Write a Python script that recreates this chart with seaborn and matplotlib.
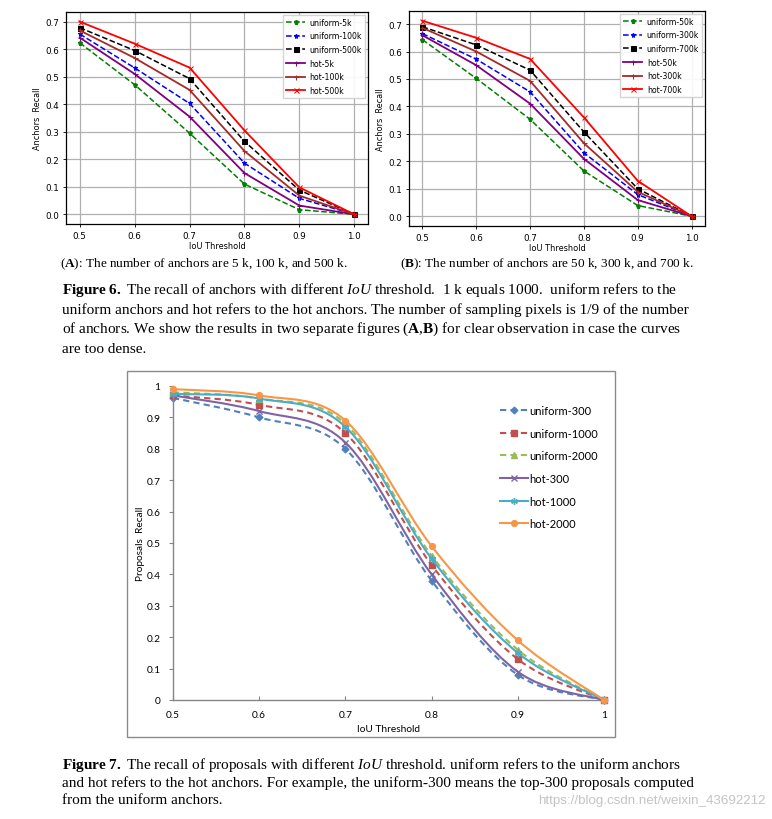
import numpy as np
import pandas as pd
import matplotlib
matplotlib.use("Agg")
import matplotlib.pyplot as plt
import seaborn as sns
from matplotlib.path import Path
from matplotlib.patches import PathPatch, Rectangle
from matplotlib.lines import Line2D

# ---------------------------------------------------------------------------
# data
# ---------------------------------------------------------------------------
iou = [0.5, 0.6, 0.7, 0.8, 0.9, 1.0]

# Figure 6 (A)
labels_a = ["uniform-5k", "uniform-100k", "uniform-500k", "hot-5k", "hot-100k", "hot-500k"]
uniform_5k = [0.623, 0.471, 0.295, 0.110, 0.017, 0.0]
uniform_100k = [0.655, 0.532, 0.403, 0.186, 0.058, 0.0]
uniform_500k = [0.678, 0.595, 0.493, 0.265, 0.088, 0.0]
hot_5k = [0.642, 0.510, 0.355, 0.150, 0.032, 0.0]
hot_100k = [0.668, 0.568, 0.452, 0.230, 0.068, 0.0]
hot_500k = [0.700, 0.620, 0.533, 0.305, 0.098, 0.0]

# Figure 6 (B)
labels_b = ["uniform-50k", "uniform-300k", "uniform-700k", "hot-50k", "hot-300k", "hot-700k"]
uniform_50k = [0.643, 0.502, 0.353, 0.165, 0.039, 0.0]
uniform_300k = [0.665, 0.572, 0.453, 0.231, 0.079, 0.0]
uniform_700k = [0.690, 0.624, 0.532, 0.307, 0.100, 0.0]
hot_50k = [0.659, 0.550, 0.410, 0.209, 0.059, 0.0]
hot_300k = [0.686, 0.600, 0.493, 0.266, 0.089, 0.0]
hot_700k = [0.712, 0.650, 0.573, 0.360, 0.129, 0.0]

# Figure 7
labels_c = ["uniform-300", "uniform-1000", "uniform-2000", "hot-300", "hot-1000", "hot-2000"]
uniform_300 = [0.962, 0.900, 0.800, 0.380, 0.080, 0.0]
uniform_1000 = [0.970, 0.940, 0.850, 0.430, 0.130, 0.0]
uniform_2000 = [0.980, 0.960, 0.880, 0.460, 0.160, 0.0]
hot_300 = [0.970, 0.920, 0.820, 0.400, 0.090, 0.0]
hot_1000 = [0.975, 0.960, 0.870, 0.450, 0.150, 0.0]
hot_2000 = [0.990, 0.970, 0.890, 0.490, 0.190, 0.0]

x_ticklabels_c = ["0.5", "0.6", "0.7", "0.8", "0.9", "1"]
y_ticklabels_c = ["0", "0.1", "0.2", "0.3", "0.4", "0.5", "0.6", "0.7", "0.8", "0.9", "1"]

# ---------------------------------------------------------------------------
# styles
# ---------------------------------------------------------------------------
plt.rcParams["mathtext.fontset"] = "custom"
plt.rcParams["mathtext.rm"] = "Liberation Serif"
plt.rcParams["mathtext.it"] = "Liberation Serif:italic"
plt.rcParams["mathtext.bf"] = "Liberation Serif:bold"

top_colors = ["green", "blue", "black", "purple", "brown", "red"]
top_markers = ["p", "*", "s", "+", "+", "x"]
top_styles = ["--", "--", "--", "-", "-", "-"]

c_colors = ["#4F81BD", "#C0504D", "#9BBB59", "#8064A2", "#4BACC6", "#F79646"]
c_markers = ["D", "s", "^", "x", (6, 2, 0), "o"]
c_msize = [3.4, 4.4, 4.2, 4.4, 4.8, 4.2]
c_dashed = [True, True, True, False, False, False]

W, H = 772, 820
fig = plt.figure(figsize=(W / 100, H / 100), dpi=100)


def px_axes(l, t, r, b):
    return [l / W, 1 - b / H, (r - l) / W, (b - t) / H]


def px(x, y):
    return x / W, 1 - y / H


def top_panel(rect, series, labels):
    ax = fig.add_axes(rect)
    for vals, lab, col, mk, ls in zip(series, labels, top_colors, top_markers, top_styles):
        sns.lineplot(x=iou, y=vals, ax=ax, color=col, marker=mk, linestyle=ls,
                     lw=1.3 if ls == "-" else 1.1, markersize=3.6,
                     markeredgecolor=col, markerfacecolor=col, label=lab)
    ax.set_xticks(iou)
    ax.set_yticks([0.0, 0.1, 0.2, 0.3, 0.4, 0.5, 0.6, 0.7])
    ax.grid(True, color="#b0b0b0", lw=0.9)
    ax.set_axisbelow(True)
    ax.tick_params(labelsize=6.3, length=2.5, width=0.6, pad=2.5)
    ax.set_xlabel("IoU Threshold", fontsize=5.9, labelpad=1)
    ax.set_ylabel("Anchors  Recall", fontsize=5.9, labelpad=2)
    for s in ax.spines.values():
        s.set_linewidth(0.9)
    ax.legend(loc="upper right", fontsize=5.6, handlelength=2.4, labelspacing=0.6,
              borderpad=0.4, handletextpad=0.6, framealpha=0.9, edgecolor="#d0d0d0",
              fancybox=False, borderaxespad=0.35)
    return ax


ax_a = top_panel(px_axes(66, 13, 368, 225),
                 [uniform_5k, uniform_100k, uniform_500k, hot_5k, hot_100k, hot_500k], labels_a)
ax_b = top_panel(px_axes(409, 12, 705, 227),
                 [uniform_50k, uniform_300k, uniform_700k, hot_50k, hot_300k, hot_700k], labels_b)

# ---------------------------------------------------------------------------
# captions
# ---------------------------------------------------------------------------
serif = "Liberation Serif"
fig.text(*px(60, 264), r"($\mathbf{A}$): The number of anchors are 5 k, 100 k, and 500 k.",
         family=serif, fontsize=9.5, va="center")
fig.text(*px(400, 264), r"($\mathbf{B}$): The number of anchors are 50 k, 300 k, and 700 k.",
         family=serif, fontsize=9.5, va="center")

fig6_lines = [
    r"$\mathbf{Figure\ 6.}$ The recall of anchors with different $\mathit{IoU}$ threshold.  1 k equals 1000.  uniform refers to the",
    "uniform anchors and hot refers to the hot anchors. The number of sampling pixels is 1/9 of the number",
    r"of anchors. We show the results in two separate figures ($\mathbf{A}$,$\mathbf{B}$) for clear observation in case the curves",
    "are too dense.",
]
for i, line in enumerate(fig6_lines):
    fig.text(*px(62, 290 + i * 19.7), line, family=serif, fontsize=11, va="center")

fig7_lines = [
    r"$\mathbf{Figure\ 7.}$ The recall of proposals with different $\mathit{IoU}$ threshold. uniform refers to the uniform anchors",
    "and hot refers to the hot anchors. For example, the uniform-300 means the top-300 proposals computed",
    "from the uniform anchors.",
]
for i, line in enumerate(fig7_lines):
    fig.text(*px(62, 765 + i * 18), line, family=serif, fontsize=11, va="center")

fig.text(*px(766, 801), "https://blog.csdn.net/weixin_43692212", family="Liberation Sans",
         fontsize=9.6, color="#c4c4c4", ha="right", va="center")

# ---------------------------------------------------------------------------
# Figure 7 (excel-like chart with smoothed lines)
# ---------------------------------------------------------------------------
fig.add_artist(Rectangle(px(127, 738), (615 - 127) / W, (738 - 372) / H,
                         transform=fig.transFigure, fill=False, ec="#8a8a8a", lw=1.0))

ax_c = fig.add_axes(px_axes(173, 387, 604, 701))


def smooth_path(xs, ys):
    # cubic bezier through the points (excel "smoothed line")
    pts = np.column_stack([xs, ys])
    ext = np.vstack([pts[0], pts, pts[-1]])
    verts = [pts[0]]
    codes = [Path.MOVETO]
    for k in range(1, len(ext) - 2):
        p0, p1, p2, p3 = ext[k - 1], ext[k], ext[k + 1], ext[k + 2]
        verts += [p1 + (p2 - p0) / 6, p2 - (p3 - p1) / 6, p2]
        codes += [Path.CURVE4] * 3
    return Path(verts, codes)


series_c = [uniform_300, uniform_1000, uniform_2000, hot_300, hot_1000, hot_2000]
handles = []
for n, (vals, lab, col, mk, ms, dashed) in enumerate(
        zip(series_c, labels_c, c_colors, c_markers, c_msize, c_dashed)):
    ls = (0, (3, 2)) if dashed else "-"
    ax_c.add_patch(PathPatch(smooth_path(iou, vals), fill=False, ec=col, lw=1.5,
                             linestyle=ls, zorder=2 + n, clip_on=False))
    sns.scatterplot(x=iou, y=vals, ax=ax_c, marker=mk, color=col, s=ms ** 2,
                    edgecolor=col, linewidth=1.0, zorder=2.5 + n, clip_on=False)
    handles.append(Line2D([], [], color=col, lw=1.5, linestyle=ls, marker=mk,
                          markersize=ms, markerfacecolor=col, markeredgecolor=col,
                          label=lab))

ax_c.set_xlim(0.5, 1.0)
ax_c.set_ylim(0, 1)
ax_c.set_xticks(iou)
ax_c.set_xticklabels(x_ticklabels_c)
ax_c.set_yticks(np.round(np.arange(0, 11) / 10, 1))
ax_c.set_yticklabels(y_ticklabels_c)
for side in ["top", "right"]:
    ax_c.spines[side].set_visible(False)
for side in ["left", "bottom"]:
    ax_c.spines[side].set_color("#868686")
    ax_c.spines[side].set_linewidth(1.0)
ax_c.tick_params(axis="y", direction="out", length=3, color="#868686", labelsize=7.3, pad=6)
ax_c.tick_params(axis="x", direction="in", length=3, color="#868686", labelsize=7.3, pad=7)
for t in ax_c.get_xticklabels() + ax_c.get_yticklabels():
    t.set_family("Lato")
ax_c.set_xlabel("IoU Threshold", family="Lato", fontsize=7.3, labelpad=4)
ax_c.set_ylabel("Proposals  Recall", family="Lato", fontsize=7.3, labelpad=1)

ax_c.legend(handles=handles, loc="upper left", bbox_to_anchor=px(500, 406),
            bbox_transform=fig.transFigure, frameon=False, prop={"family": "Lato", "size": 8},
            handlelength=2.5, handletextpad=0.1, labelspacing=1.05, borderpad=0, borderaxespad=0)

fig.savefig("out.png", dpi=100)
